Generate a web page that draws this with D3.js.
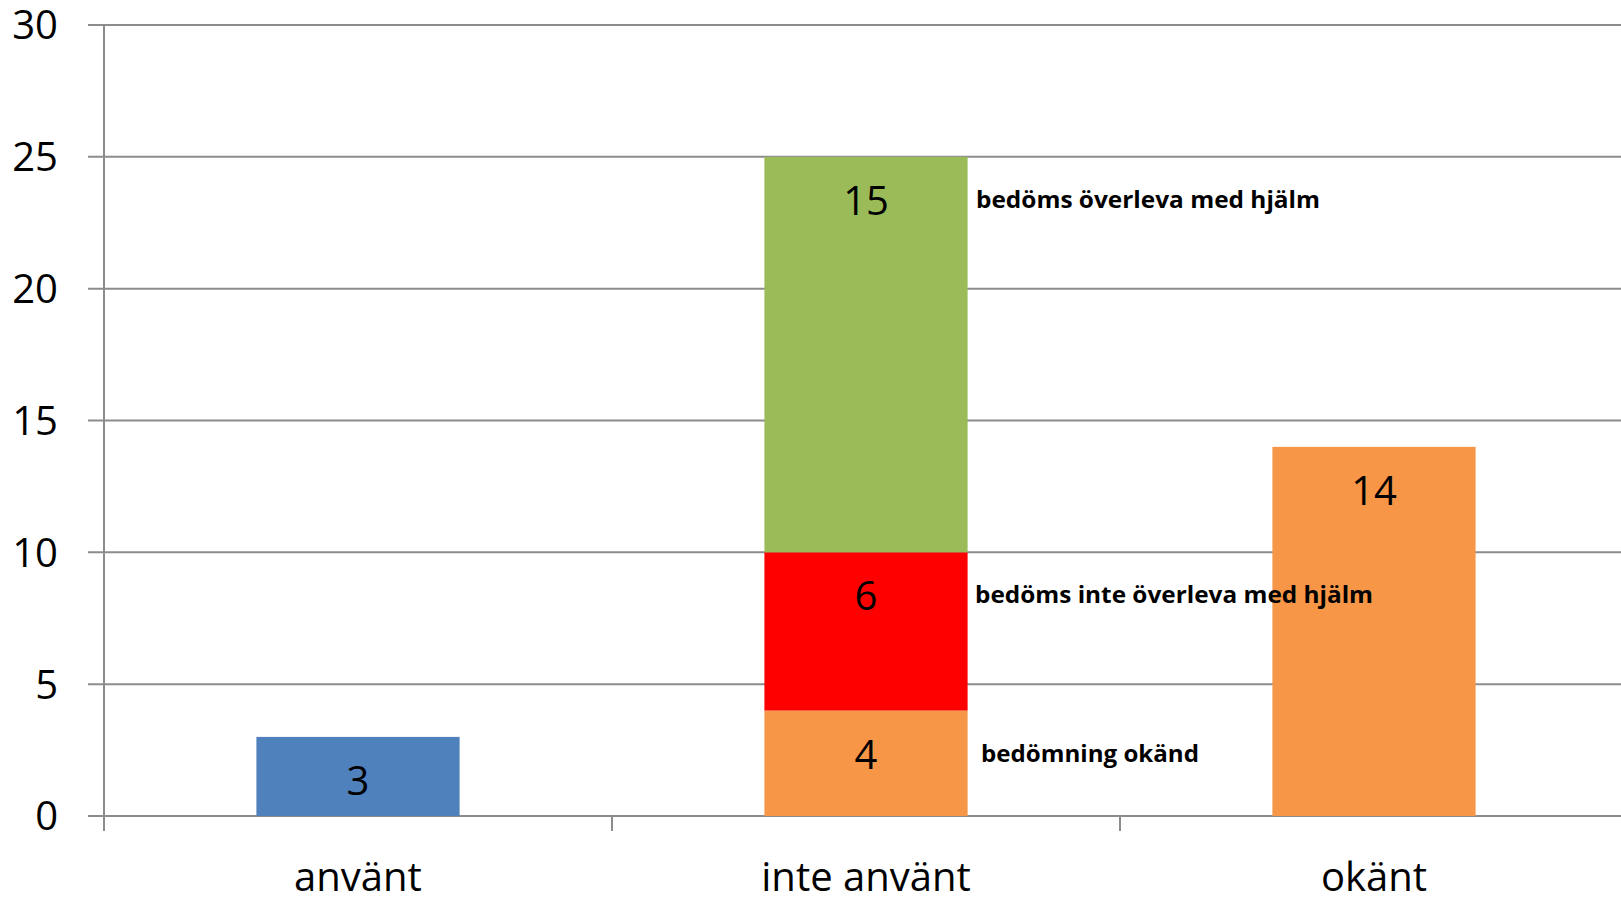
<!DOCTYPE html>
<html><head><meta charset="utf-8">
<script src="https://cdn.jsdelivr.net/npm/d3@7"></script>
<style>html,body{margin:0;padding:0;background:#fff;overflow:hidden}</style>
</head><body>
<svg id="c" width="1621" height="898"></svg>
<script>
const categories = ["använt", "inte använt", "okänt"];
const seriesNames = ["bedömning okänd", "bedöms inte överleva med hjälm", "bedöms överleva med hjälm"];
const usedValues = [3, 0, 0];
const unknownAssessment = [0, 4, 14];
const notSurvive = [0, 6, 0];
const survive = [0, 15, 0];
const yTicks = [0, 5, 10, 15, 20, 25, 30];

(function () {
const svg = d3.select("#c");
const mLeft = 104, mRight = 1628, mTop = 25, mBottom = 816;
const x = d3.scaleBand().domain(categories).range([mLeft, mRight]).padding(0);
const y = d3.scaleLinear().domain([0, 30]).range([mBottom, mTop]);
const grid = "#8c8c8c";
const font = "'Open Sans', 'Noto Sans', sans-serif";

svg.append("g").selectAll("line").data(yTicks).join("line")
  .attr("x1", mLeft - 16).attr("x2", 1621)
  .attr("y1", d => y(d)).attr("y2", d => y(d))
  .attr("stroke", grid).attr("stroke-width", 2);

svg.append("line").attr("x1", mLeft).attr("x2", mLeft).attr("y1", mTop).attr("y2", mBottom + 15)
  .attr("stroke", grid).attr("stroke-width", 2);

const xTickPos = categories.map(c => x(c));
svg.append("g").selectAll("line").data(xTickPos).join("line")
  .attr("x1", d => d).attr("x2", d => d).attr("y1", mBottom).attr("y2", mBottom + 15)
  .attr("stroke", grid).attr("stroke-width", 2);

svg.append("g").selectAll("text").data(yTicks).join("text")
  .attr("x", 58).attr("y", d => y(d)).attr("dy", "0.36em")
  .attr("text-anchor", "end").attr("font-family", font).attr("font-size", 40)
  .attr("fill", "#000").text(d => d);

svg.append("g").selectAll("text").data(categories).join("text")
  .attr("x", d => x(d) + x.bandwidth() / 2).attr("y", 891)
  .attr("text-anchor", "middle").attr("font-family", font).attr("font-size", 40)
  .attr("fill", "#000").text(d => d);

const rows = categories.map((c, i) => ({cat: c, used: usedValues[i], unk: unknownAssessment[i], not: notSurvive[i], surv: survive[i]}));
const keys = ["used", "unk", "not", "surv"];
const colors = {used: "#4F81BD", unk: "#F79646", not: "#FF0000", surv: "#9BBB59"};
const stack = d3.stack().keys(keys)(rows);
const bw = x.bandwidth() * 0.4;

const segs = [];
stack.forEach(s => s.forEach(d => {
  if (d[1] - d[0] > 0) segs.push({key: s.key, cat: d.data.cat, y0: d[0], y1: d[1], v: d[1] - d[0]});
}));

svg.append("g").selectAll("rect").data(segs).join("rect")
  .attr("x", d => x(d.cat) + x.bandwidth() / 2 - bw / 2)
  .attr("width", bw)
  .attr("y", d => y(d.y1))
  .attr("height", d => y(d.y0) - y(d.y1))
  .attr("fill", d => colors[d.key]);

svg.append("g").selectAll("text").data(segs).join("text")
  .attr("x", d => x(d.cat) + x.bandwidth() / 2)
  .attr("y", d => y(d.y1) + 58)
  .attr("text-anchor", "middle").attr("font-family", font).attr("font-size", 40)
  .attr("fill", "#000").text(d => d.v);

const annot = [
  {text: seriesNames[2], key: "surv", dx: 976, len: 344},
  {text: seriesNames[1], key: "not", dx: 975, len: 398},
  {text: seriesNames[0], key: "unk", dx: 981, len: 218}
];
const midSegs = Object.fromEntries(segs.filter(s => s.cat === categories[1]).map(s => [s.key, s]));
svg.append("g").selectAll("text").data(annot).join("text")
  .attr("x", d => d.dx)
  .attr("y", d => y(midSegs[d.key].y1) + 51)
  .attr("font-family", font).attr("font-weight", "bold").attr("font-size", 24)
  .attr("textLength", d => d.len).attr("lengthAdjust", "spacingAndGlyphs")
  .attr("fill", "#000").text(d => d.text);
})();
</script>
</body></html>
